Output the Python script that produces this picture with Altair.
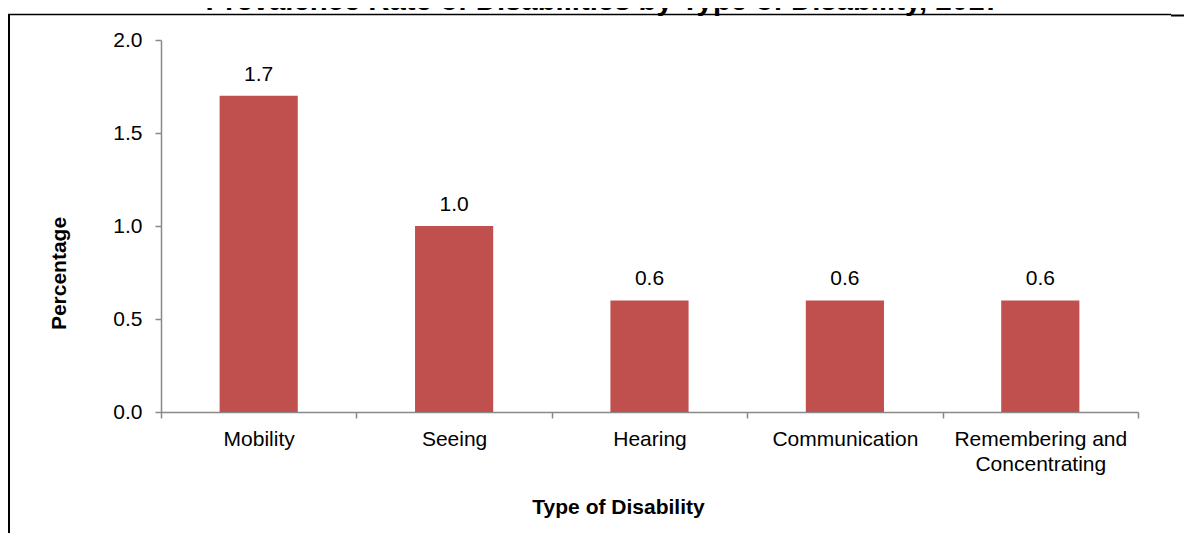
import altair as alt
import pandas as pd

categories = ["Mobility", "Seeing", "Hearing", "Communication", "Remembering and Concentrating"]
values = [1.7, 1.0, 0.6, 0.6, 0.6]
y_ticks = [0.0, 0.5, 1.0, 1.5, 2.0]
title_text = "Prevalence Rate of Disabilities by Type of Disability, 2017"
x_title = "Type of Disability"
y_title = "Percentage"

df = pd.DataFrame({"type": categories, "pct": values})

FONT = "Liberation Sans"
GRAY = "#898989"
BAR = "#C0504D"

x_enc = alt.X(
    "type:N",
    sort=categories,
    scale=alt.Scale(paddingInner=0, paddingOuter=0),
    axis=alt.Axis(
        title=x_title,
        titleFont=FONT, titleFontSize=21, titleFontWeight="bold", titleColor="#000000",
        titleX=457, titleY=101, titleBaseline="alphabetic", titleAlign="center",
        labelFont=FONT, labelFontSize=21, labelColor="#000000", labelAngle=0,
        labelPadding=10, labelLineHeight=25.5, labelLimit=400,
        labelExpr="datum.value == 'Remembering and Concentrating' ? ['Remembering and', 'Concentrating'] : datum.value",
        tickBand="extent", tickSize=6, tickColor=GRAY, domainColor=GRAY,
        domainWidth=1.5, tickWidth=1.5,
    ),
)

y_enc = alt.Y(
    "pct:Q",
    scale=alt.Scale(domain=[0, 2], nice=False, zero=True),
    axis=alt.Axis(
        title=y_title,
        titleFont=FONT, titleFontSize=21, titleFontWeight="bold", titleColor="#000000",
        titleX=-96, titleY=233, titleAngle=270, titleBaseline="alphabetic", titleAlign="center",
        values=y_ticks, format=".1f",
        labelFont=FONT, labelFontSize=21, labelColor="#000000", labelPadding=13,
        tickSize=6, tickColor=GRAY, domainColor=GRAY, grid=False,
        domainWidth=1.5, tickWidth=1.5,
    ),
)

bars = alt.Chart(df).mark_bar(color=BAR, width=alt.RelativeBandSize(0.4)).encode(x=x_enc, y=y_enc)

labels = alt.Chart(df).mark_text(
    font=FONT, fontSize=21, color="#000000", baseline="alphabetic", dy=-15
).encode(x=alt.X("type:N", sort=categories), y="pct:Q", text=alt.Text("pct:Q", format=".1f"))

one = pd.DataFrame({"t": [title_text]})

title = alt.Chart(one).mark_text(
    font=FONT, fontSize=29.3, fontWeight="bold", color="#000000", align="center", baseline="alphabetic"
).encode(text="t:N", x=alt.value(442), y=alt.value(-30))

frame_left = alt.Chart(one).mark_rule(color="#000000", strokeWidth=2).encode(
    x=alt.value(-152), y=alt.value(-26), y2=alt.value(500)
)
frame_top = alt.Chart(one).mark_rule(color="#000000", strokeWidth=1.5).encode(
    x=alt.value(-153), x2=alt.value(1010), y=alt.value(-25.5)
)
frame_top2 = alt.Chart(one).mark_rule(color="#000000", strokeWidth=2).encode(
    x=alt.value(1010), x2=alt.value(1040), y=alt.value(-24.5)
)

chart = alt.layer(bars, labels, title, frame_left, frame_top, frame_top2).properties(
    width=977,
    height=372,
    autosize=alt.AutoSizeParams(type="none"),
    padding={"left": 153, "top": 32, "right": 46, "bottom": 121},
).configure_view(strokeWidth=0)

chart.save("out.html", embed_options={"renderer": "svg", "actions": False})
